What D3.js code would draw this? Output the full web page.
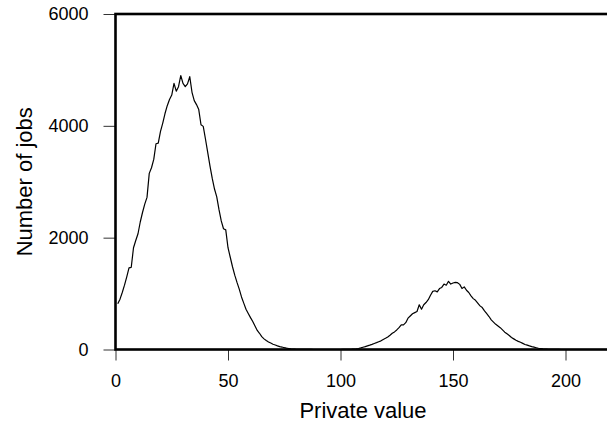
<!DOCTYPE html>
<html>
<head>
<meta charset="utf-8">
<script src="https://cdn.jsdelivr.net/npm/d3@7"></script>
<style>
  body { margin: 0; background: #fff; }
  svg { display: block; font-family: "Liberation Sans", Arial, sans-serif; }
</style>
</head>
<body>
<svg width="607" height="423"></svg>
<script>
// histogram counts, one per unit bin of private value (bin 1 .. 220)
const counts = [
  820, 900, 1020, 1150, 1300, 1460, 1470, 1820, 1950, 2070,
  2280, 2450, 2600, 2720, 3150, 3250, 3400, 3680, 3690, 3900,
  4050, 4220, 4360, 4470, 4550, 4760, 4620, 4700, 4900, 4760,
  4700, 4750, 4880, 4600, 4450, 4380, 4290, 4020, 3990, 3760,
  3520, 3280, 3060, 2870, 2730, 2500, 2300, 2160, 2140, 1820,
  1650, 1480, 1330, 1200, 1080, 940, 830, 720, 645, 570,
  500, 420, 340, 290, 230, 190, 160, 135, 115, 95,
  80, 65, 52, 44, 32, 24, 18, 12, 9, 6,
  4, 3, 2, 2, 1, 1, 1, 0, 0, 0,
  0, 0, 0, 0, 0, 0, 0, 0, 0, 0,
  1, 1, 2, 3, 5, 8, 12, 18, 28, 40,
  52, 65, 78, 92, 108, 122, 138, 155, 180, 200,
  225, 255, 290, 315, 350, 390, 440, 440, 480, 560,
  600, 640, 660, 680, 800, 720, 800, 840, 890, 970,
  1040, 1050, 1030, 1090, 1110, 1170, 1150, 1220, 1170, 1190,
  1200, 1195, 1165, 1090, 1120, 1060, 1020, 960, 910, 880,
  830, 780, 750, 690, 640, 590, 530, 490, 450, 420,
  390, 350, 310, 280, 250, 215, 190, 165, 145, 130,
  110, 90, 78, 64, 52, 42, 32, 22, 17, 12,
  9, 6, 4, 3, 2, 1, 1, 0, 0, 0,
  0, 0, 0, 0, 0, 0, 0, 0, 0, 0,
  0, 0, 0, 0, 0, 0, 0, 0, 0, 0
];
const firstBin = 1;
const xTicks = [0, 50, 100, 150, 200];
const yTicks = [0, 2000, 4000, 6000];

const svg = d3.select("svg");
const plotLeft = 115.5, plotRight = 610.5, plotTop = 14, plotBottom = 349.5;

const x = d3.scaleLinear().domain([0, 220]).range([plotLeft, plotRight]);
const y = d3.scaleLinear().domain([0, 6000]).range([plotBottom, plotTop]);
const fmt = d3.format("d");

// x axis ticks
const gx = svg.append("g")
  .attr("transform", `translate(0,${plotBottom})`)
  .call(d3.axisBottom(x).tickValues(xTicks).tickFormat(fmt)
    .tickSize(11).tickPadding(14).tickSizeOuter(0));
gx.select(".domain").remove();

// y axis ticks
const gy = svg.append("g")
  .attr("transform", `translate(${plotLeft},0)`)
  .call(d3.axisLeft(y).tickValues(yTicks).tickFormat(fmt)
    .tickSize(12).tickPadding(15).tickSizeOuter(0));
gy.select(".domain").remove();

svg.selectAll(".tick line").attr("stroke", "#333").attr("stroke-width", 1);
svg.selectAll(".tick text")
  .attr("fill", "#000")
  .style("font-size", "18px")
  .style("font-family", "Liberation Sans, Arial, sans-serif");

// the curve
const line = d3.line()
  .x((d, i) => x(firstBin + i))
  .y((d) => y(d));

svg.append("path")
  .datum(counts)
  .attr("fill", "none")
  .attr("stroke", "#000")
  .attr("stroke-width", 1.2)
  .attr("stroke-linejoin", "round")
  .attr("d", line);

// frame
svg.append("rect")
  .attr("x", plotLeft)
  .attr("y", plotTop)
  .attr("width", plotRight - plotLeft)
  .attr("height", plotBottom - plotTop)
  .attr("fill", "none")
  .attr("stroke", "#000")
  .attr("stroke-width", 2.6);

// axis titles
svg.append("text")
  .attr("x", (plotLeft + plotRight) / 2)
  .attr("y", 418)
  .attr("text-anchor", "middle")
  .style("font-size", "22px")
  .text("Private value");

svg.append("text")
  .attr("transform", `translate(31.5,${(plotTop + plotBottom) / 2}) rotate(-90)`)
  .attr("text-anchor", "middle")
  .style("font-size", "22px")
  .text("Number of jobs");
</script>
</body>
</html>
